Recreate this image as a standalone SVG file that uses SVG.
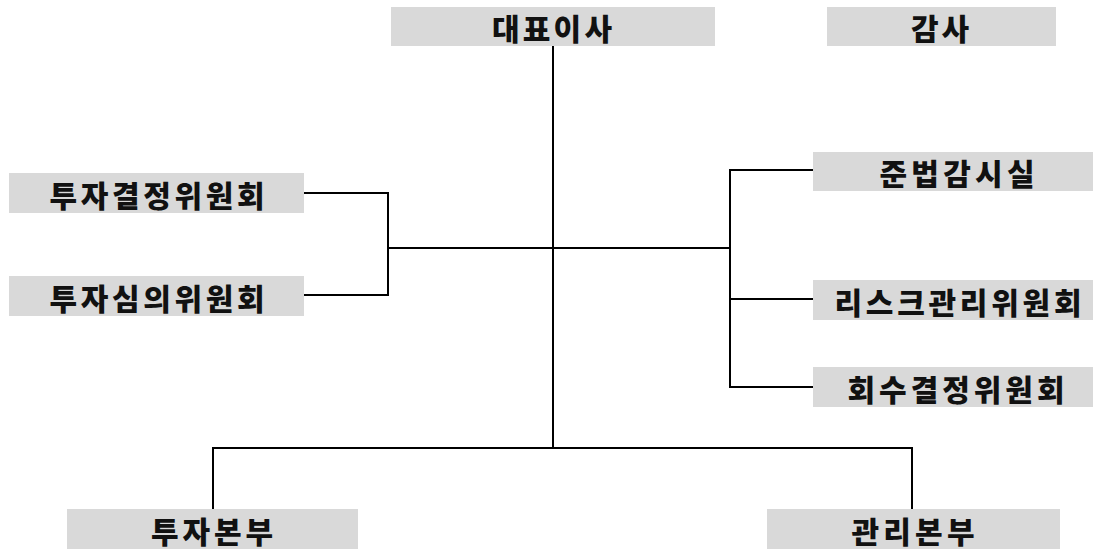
<svg xmlns="http://www.w3.org/2000/svg" width="1093" height="551" viewBox="0 0 1093 551">
<style>
.box{fill:#d9d9d9;}
.lbl{font-family:"Noto Sans CJK KR","Noto Sans",sans-serif;font-weight:900;font-size:30px;fill:#111;text-anchor:middle;dominant-baseline:central;}
.ln{stroke:#000;stroke-width:2;fill:none;}
</style>
<rect width="1093" height="551" fill="#fff"/>
<g id="connectors">
<path class="ln" d="M553 46 V448"/>
<path class="ln" d="M388 248 H730"/>
<path class="ln" d="M304 193 H388 V295 H304"/>
<path class="ln" d="M813 170 H730 V387 H813"/>
<path class="ln" d="M730 299 H813"/>
<path class="ln" d="M213 509 V448 H912 V509"/>
</g>
<g id="n-ceo"><rect class="box" x="391" y="7" width="324" height="39"/><text class="lbl" x="552" y="27" textLength="120" lengthAdjust="spacing">대표이사</text></g>
<g id="n-audit"><rect class="box" x="827" y="7" width="229" height="39"/><text class="lbl" x="940" y="27" textLength="58" lengthAdjust="spacing">감사</text></g>
<g id="n-invdec"><rect class="box" x="9" y="173" width="295" height="40"/><text class="lbl" x="157" y="194" textLength="215" lengthAdjust="spacing">투자결정위원회</text></g>
<g id="n-invrev"><rect class="box" x="9" y="276" width="295" height="40"/><text class="lbl" x="157" y="297" textLength="215" lengthAdjust="spacing">투자심의위원회</text></g>
<g id="n-comp"><rect class="box" x="813" y="152" width="280" height="39"/><text class="lbl" x="957" y="172" textLength="155" lengthAdjust="spacing">준법감시실</text></g>
<g id="n-risk"><rect class="box" x="813" y="280" width="280" height="40"/><text class="lbl" x="958" y="301" textLength="247" lengthAdjust="spacing">리스크관리위원회</text></g>
<g id="n-recov"><rect class="box" x="813" y="367" width="280" height="40"/><text class="lbl" x="956" y="388" textLength="217" lengthAdjust="spacing">회수결정위원회</text></g>
<g id="n-invhq"><rect class="box" x="67" y="509" width="291" height="40"/><text class="lbl" x="212" y="530" textLength="122" lengthAdjust="spacing">투자본부</text></g>
<g id="n-mgmt"><rect class="box" x="767" y="509" width="293" height="40"/><text class="lbl" x="913" y="530" textLength="123" lengthAdjust="spacing">관리본부</text></g>
</svg>
